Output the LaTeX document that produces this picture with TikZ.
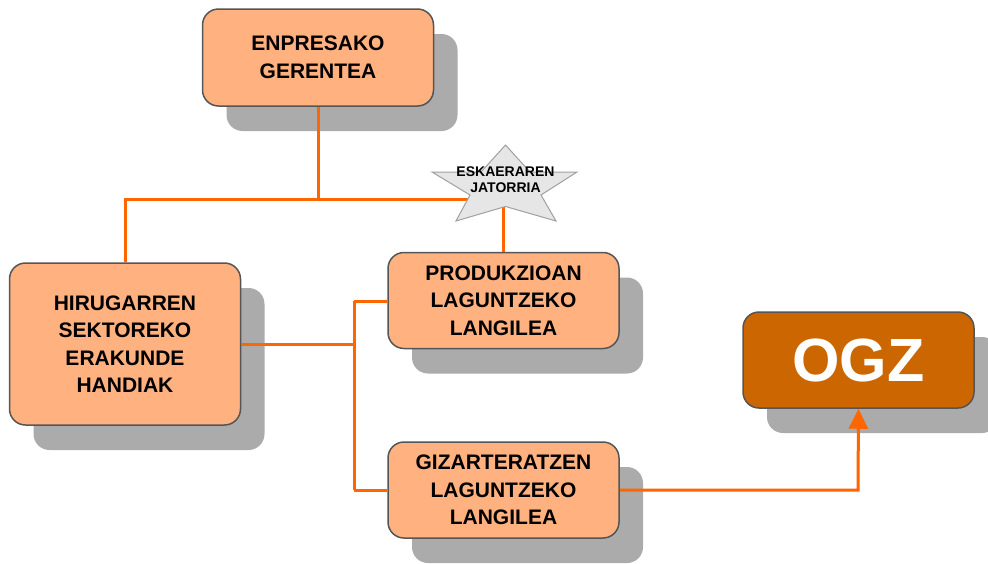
\documentclass[tikz,border=0pt]{standalone}
\usepackage{fontspec}
\setmainfont{Liberation Sans}
\usetikzlibrary{shadows,arrows.meta}

\definecolor{peach}{HTML}{FFB27F}
\definecolor{rust}{HTML}{CC6600}
\definecolor{edgegray}{HTML}{555555}
\definecolor{shadegray}{HTML}{ABABAB}
\definecolor{linkorange}{HTML}{FF6600}
\definecolor{starfill}{HTML}{E6E6E6}
\definecolor{staredge}{HTML}{A0A0A0}

\begin{document}
\begin{tikzpicture}[x=1pt,y=-1pt,
  unit/.style={draw=edgegray, line width=1.5pt, fill=peach, rounded corners=16pt,
    minimum width=231pt, inner sep=0pt, align=center,
    font=\bfseries\fontsize{21}{27.5}\selectfont,
    general shadow={fill=shadegray, shadow xshift=24pt, shadow yshift=-25pt}},
  hub/.style={unit, fill=rust, text=white, font=\bfseries\fontsize{61}{61}\selectfont},
  link/.style={draw=linkorange, line width=3pt},
  arrowlink/.style={link, -{Triangle[length=20pt,width=19pt]}}
]
\useasboundingbox (0,0) rectangle (988,563);

% turning points of the connectors
\coordinate (top) at (318,199);
\coordinate (leftknee) at (125,199);
\coordinate (fork) at (354,344);
\coordinate (forkup) at (354,301);
\coordinate (forkdown) at (354,490);
\coordinate (ogzknee) at (858,490);

% boxes
\node[unit, minimum height=97pt] (ger) at (318,57.5) {ENPRESAKO\\GERENTEA};
\node[unit, minimum height=162pt] (hir) at (125,344) {HIRUGARREN\\SEKTOREKO\\ERAKUNDE\\HANDIAK};
\node[unit, minimum height=96pt] (prod) at (503.5,300.5) {PRODUKZIOAN\\LAGUNTZEKO\\LANGILEA};
\node[unit, minimum height=96pt] (giz) at (503.5,490) {GIZARTERATZEN\\LAGUNTZEKO\\LANGILEA};
\node[hub, minimum height=96pt] (ogz) at (858.5,360) {OGZ};

% links between the boxes
\draw[link] (ger.south) -- (top);
\draw[link] (top) -- (505,199);
\draw[link] (top) -- (leftknee) -- (hir.north);
\draw[link] (hir.east |- fork) -- (fork);
\draw[link] (forkup) -- (forkdown);
\draw[link] (forkup) -- (prod.west |- forkup);
\draw[link] (forkdown) -- (giz.west |- forkdown);
\draw[link] (503.5,205) -- (prod.north);
\draw[arrowlink] (giz.east |- ogzknee) -- (ogzknee) -- (ogz.south);

% star label
\draw[fill=starfill, draw=staredge, line width=1pt]
  (505.5,145) -- (530,172) -- (577,172) -- (541,195) -- (556,221)
  -- (505.5,206.5) -- (456,221) -- (470,195) -- (432,172) -- (481,172) -- cycle;
\node[align=center, inner sep=0pt, font=\bfseries\fontsize{14}{16}\selectfont] (src) at (505.5,180) {ESKAERAREN\\JATORRIA};
\end{tikzpicture}
\end{document}
